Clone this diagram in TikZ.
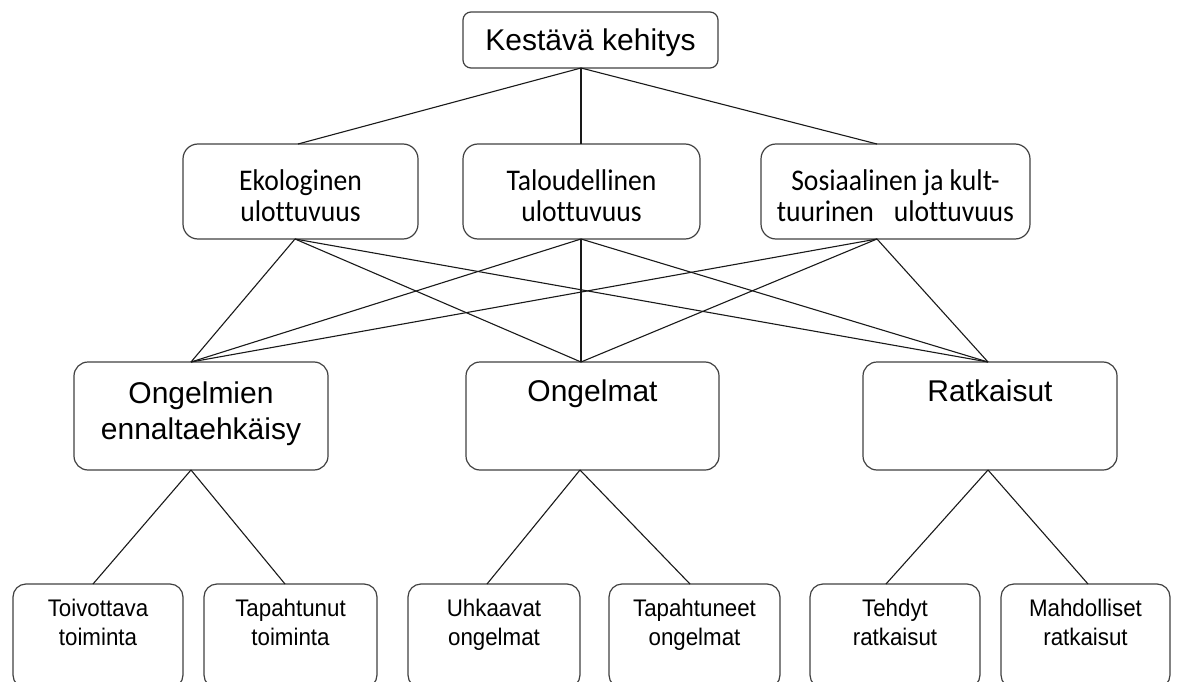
\documentclass[tikz,border=0pt]{standalone}
\usepackage{fontspec}
\setmainfont{Liberation Sans}
\newfontfamily\calib[FakeStretch=0.92,Ligatures=NoCommon]{Carlito}
\newfontfamily\arialn[FakeStretch=0.93]{Liberation Sans}
\newcommand{\bxt}[4]{\parbox[c][#2][t]{#1}{\centering\rule{0pt}{#3}#4\par}}
\tikzset{
  bx/.style={draw=black!75, line width=1.2pt, inner sep=0pt, outer sep=0pt, rounded corners=13pt},
  ln/.style={line width=1.1pt, draw=black!90},
  big/.style={font=\fontsize{30}{36}\selectfont},
  mid/.style={font=\calib\fontsize{30}{31}\selectfont},
  small/.style={font=\arialn\fontsize{24}{29}\selectfont}
}
\begin{document}
\begin{tikzpicture}[x=1pt,y=-1pt]
\useasboundingbox (0,0) rectangle (1178,682);
\clip (0,0) rectangle (1178,682);
% top
\node[bx,big,rounded corners=8pt] (K) at (590.5,40) {\bxt{255pt}{56pt}{38.5pt}{Kestävä kehitys}};
% middle row
\node[bx,mid,rounded corners=15pt] (E) at (300.5,191.5) {\bxt{235pt}{95pt}{46pt}{Ekologinen\\ulottuvuus}};
\node[bx,mid,rounded corners=15pt] (T) at (581.5,191.5) {\bxt{237pt}{95pt}{46pt}{Taloudellinen\\ulottuvuus}};
\node[bx,mid,rounded corners=15pt] (S) at (895.5,191.5) {\bxt{269pt}{95pt}{46pt}{Sosiaalinen ja kult-\\tuurinen\hspace{20pt}ulottuvuus}};
% third row
\node[bx,big,rounded corners=14pt] (P) at (201,416) {\bxt{254pt}{108pt}{41pt}{Ongelmien\\ennaltaehkäisy}};
\node[bx,big,rounded corners=14pt] (O) at (592.5,416) {\bxt{253pt}{108pt}{39pt}{Ongelmat}};
\node[bx,big,rounded corners=14pt] (R) at (990,416) {\bxt{254pt}{108pt}{39pt}{Ratkaisut}};
% bottom row
\node[bx,small] (b1) at (98,636) {\bxt{170pt}{104pt}{32pt}{Toivottava\\toiminta}};
\node[bx,small] (b2) at (290.5,636) {\bxt{173pt}{104pt}{32pt}{Tapahtunut\\toiminta}};
\node[bx,small] (b3) at (494,636) {\bxt{172pt}{104pt}{32pt}{Uhkaavat\\ongelmat}};
\node[bx,small] (b4) at (694.5,636) {\bxt{171pt}{104pt}{32pt}{Tapahtuneet\\ongelmat}};
\node[bx,small] (b5) at (895,636) {\bxt{170pt}{104pt}{32pt}{Tehdyt\\ratkaisut}};
\node[bx,small] (b6) at (1085.5,636) {\bxt{169pt}{104pt}{32pt}{Mahdolliset\\ratkaisut}};
% connection points
\coordinate (Kb) at (581,0 |- K.south);
\coordinate (Et) at (298,0 |- E.north);
\coordinate (Eb) at (295,0 |- E.south);
\coordinate (Tt) at (581,0 |- T.north);
\coordinate (Tb) at (581,0 |- T.south);
\coordinate (St) at (877,0 |- S.north);
\coordinate (Sb) at (877,0 |- S.south);
\coordinate (Pt) at (191,0 |- P.north);
\coordinate (Pb) at (191,0 |- P.south);
\coordinate (Ot) at (581,0 |- O.north);
\coordinate (Ob) at (580,0 |- O.south);
\coordinate (Rt) at (988,0 |- R.north);
\coordinate (Rb) at (988,0 |- R.south);
\coordinate (b1t) at (93,0 |- b1.north);
\coordinate (b2t) at (285,0 |- b2.north);
\coordinate (b3t) at (487,0 |- b3.north);
\coordinate (b4t) at (690,0 |- b4.north);
\coordinate (b5t) at (886,0 |- b5.north);
\coordinate (b6t) at (1088,0 |- b6.north);
% connectors
\draw[ln] (Kb) -- (Et);
\draw[ln] (Kb) -- (Tt);
\draw[ln] (Kb) -- (St);
\foreach \a in {Eb,Tb,Sb}{
  \foreach \b in {Pt,Ot,Rt}{
    \draw[ln] (\a) -- (\b);
  }
}
\draw[ln] (Pb) -- (b1t);
\draw[ln] (Pb) -- (b2t);
\draw[ln] (Ob) -- (b3t);
\draw[ln] (Ob) -- (b4t);
\draw[ln] (Rb) -- (b5t);
\draw[ln] (Rb) -- (b6t);
\end{tikzpicture}
\end{document}
